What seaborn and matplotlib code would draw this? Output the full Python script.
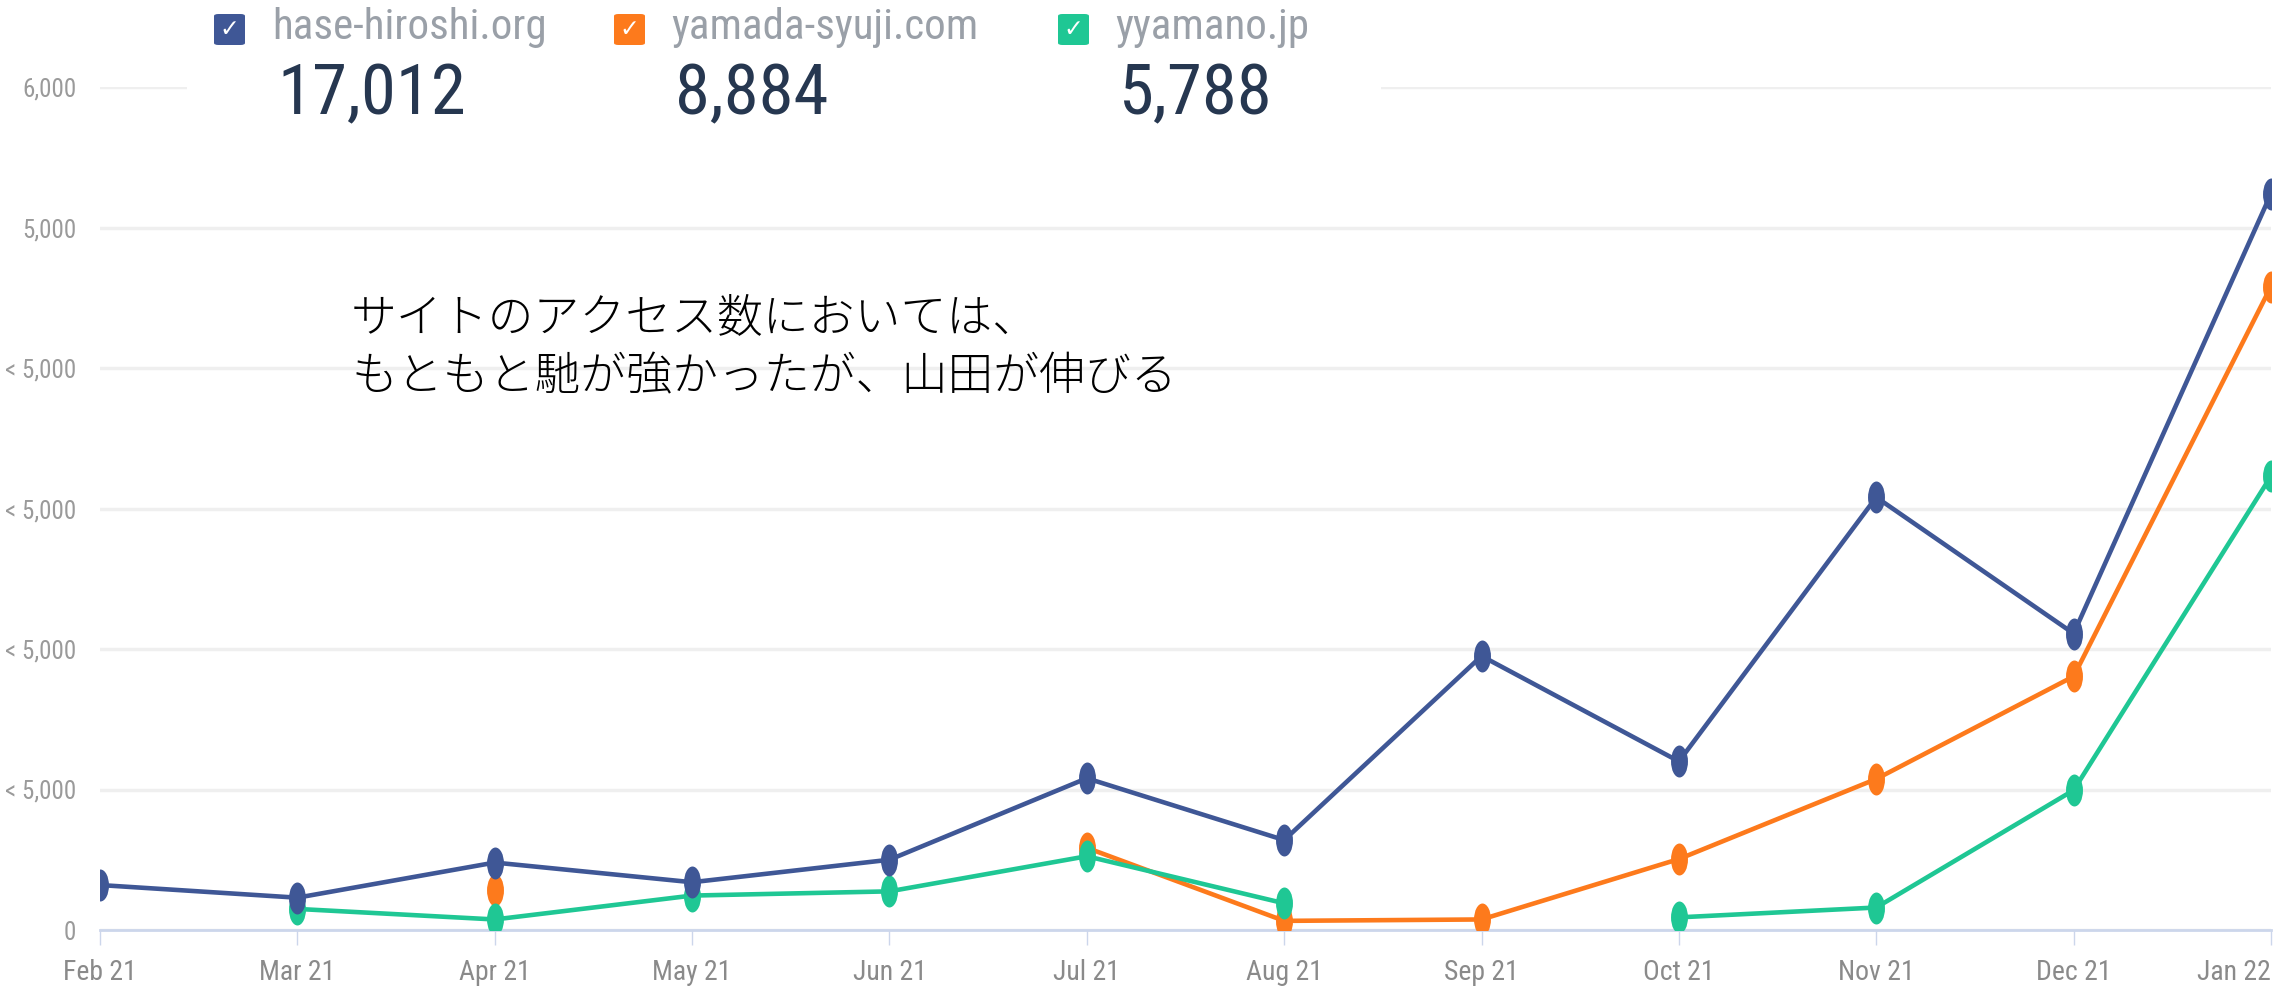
import numpy as np
import pandas as pd
import matplotlib
matplotlib.use("Agg")
import matplotlib.pyplot as plt
import seaborn as sns
from matplotlib import font_manager
from matplotlib.path import Path
from matplotlib.transforms import Affine2D
from matplotlib.patches import FancyBboxPatch, Rectangle

months = ["Feb 21", "Mar 21", "Apr 21", "May 21", "Jun 21", "Jul 21",
          "Aug 21", "Sep 21", "Oct 21", "Nov 21", "Dec 21", "Jan 22"]
sites = ["hase-hiroshi.org", "yamada-syuji.com", "yyamano.jp"]
totals = ["17,012", "8,884", "5,788"]
colors = ["#3f5796", "#fd7a1c", "#1fc794"]

hase = [320, 230, 480, 340, 500, 1080, 640, 1950, 1200, 3080, 2110, 5240]
yamada = [np.nan, np.nan, 285, np.nan, np.nan, 585, 65, 75, 505, 1075, 1805, 4580]
yyamano = [np.nan, 150, 75, 245, 275, 525, 190, np.nan, 90, 160, 995, 3230]

ytick_vals = [0, 1000, 2000, 3000, 4000, 5000, 6000]
ytick_labels = ["0", "< 5,000", "< 5,000", "< 5,000", "< 5,000", "5,000", "6,000"]

note_lines = ["サイトのアクセス数においては、", "もともと馳が強かったが、山田が伸びる"]

# pick a narrow font if one is around
names = {f.name for f in font_manager.fontManager.ttflist}
narrow = "Roboto"
for cand in ["Liberation Sans Narrow", "Roboto Condensed", "Arial Narrow"]:
    if cand in names:
        narrow = cand
        break

sns.set_theme(style="white")
plt.rcParams["font.family"] = [narrow, "DejaVu Sans"]

W, H = 2292, 999
fig = plt.figure(figsize=(W / 100, H / 100), dpi=100)
ax = fig.add_axes([100 / W, 1 - 930 / H, 2171 / W, 843 / H])

# long table, one segment id per unbroken run
rows = []
for name, vals in zip(sites, [hase, yamada, yyamano]):
    seg = 0
    prev_nan = True
    for i, v in enumerate(vals):
        if np.isnan(v):
            prev_nan = True
            continue
        if prev_nan:
            seg += 1
        prev_nan = False
        rows.append({"site": name, "pos": i, "value": v, "seg": f"{name}-{seg}"})
df = pd.DataFrame(rows)

ellipse = Path.unit_circle().transformed(Affine2D().scale(0.53, 1.0))

zl = {1: 3, 2: 4, 0: 5}  # orange at the back, blue on top
for k in [1, 2, 0]:
    sub = df[df["site"] == sites[k]]
    sns.lineplot(data=sub, x="pos", y="value", units="seg", estimator=None,
                 color=colors[k], lw=3.3, ax=ax, zorder=zl[k], legend=False)
    sns.scatterplot(data=sub, x="pos", y="value", color=colors[k], marker=ellipse,
                    s=530, linewidth=0, ax=ax, zorder=zl[k] + 0.5, legend=False)

ax.set_xlim(0, len(months) - 1)
ax.set_ylim(0, 6000)
ax.set_xticks(range(len(months)))
ax.set_xticklabels(months)
ax.get_xticklabels()[-1].set_ha("right")
ax.set_yticks(ytick_vals)
ax.set_yticklabels(ytick_labels)
ax.set_xlabel("")
ax.set_ylabel("")
ax.grid(axis="y", color="#efefef", lw=2.5)
ax.set_axisbelow(True)
for s in ["left", "right", "top"]:
    ax.spines[s].set_visible(False)
ax.spines["bottom"].set_color("#ccd6eb")
ax.spines["bottom"].set_linewidth(2)
ax.tick_params(axis="x", length=11, width=1, color="#ccd6eb", pad=10,
               labelsize=20, labelcolor="#8a8a8a", bottom=True)
ax.tick_params(axis="y", length=0, pad=17, labelsize=18, labelcolor="#9a9a9a")

# annotation
for j, line in enumerate(note_lines):
    fig.text(351 / W, 1 - (318 + 60 * j) / H, line, fontsize=33,
             family=["Noto Sans CJK JP", "DejaVu Sans"], fontweight="light",
             color="black", va="center", ha="left", zorder=6)

# legend header on white
fig.patches.append(Rectangle((187 / W, 1 - 115 / H), (1381 - 187) / W, 115 / H,
                             transform=fig.transFigure, facecolor="white",
                             edgecolor="none", zorder=1))
box_x = [214, 614, 1058]
text_x = [272, 671, 1115]
num_x = [277, 675, 1118]
for k in range(3):
    bx, by, bs = box_x[k] / W, 1 - 45 / H, 31
    fig.patches.append(FancyBboxPatch((bx, by), bs / W, bs / H,
                                      boxstyle="round,pad=0,rounding_size=0.002",
                                      transform=fig.transFigure, facecolor=colors[k],
                                      edgecolor="none", zorder=2))
    fig.text(bx + bs / 2 / W, by + bs / 2 / H, "✓", color="white", fontsize=17,
             family="DejaVu Sans", ha="center", va="center", zorder=3)
    fig.text(text_x[k] / W, 1 - 28 / H, sites[k], color="#9aa0a8", fontsize=31,
             ha="left", va="center", zorder=3)
    fig.text(num_x[k] / W, 1 - 95 / H, totals[k], color="#263750", fontsize=51,
             ha="left", va="center", zorder=3)

fig.savefig("out.png", dpi=100, facecolor="white")
